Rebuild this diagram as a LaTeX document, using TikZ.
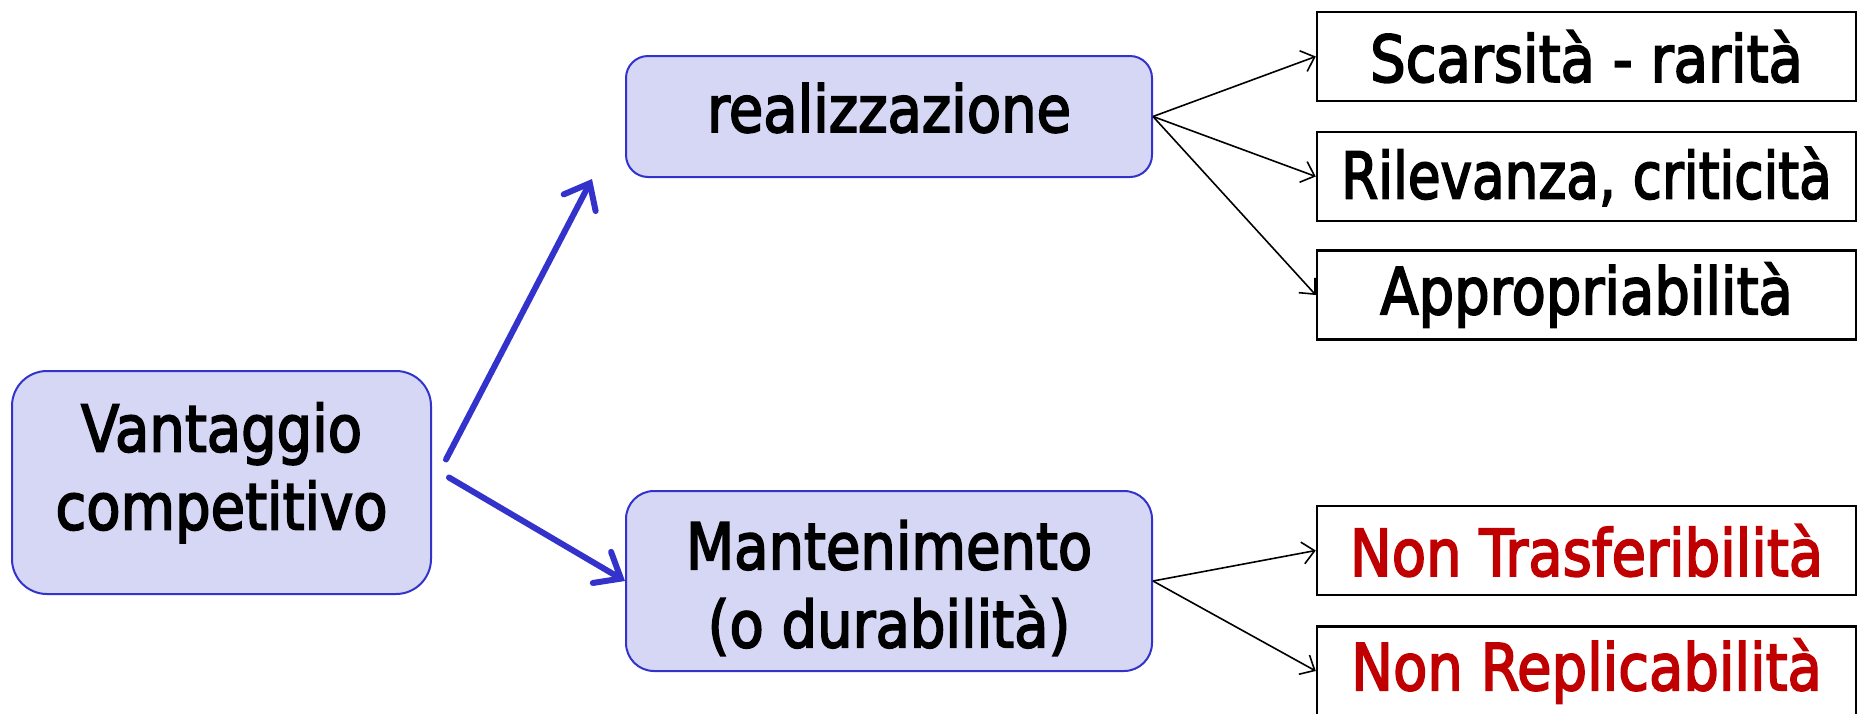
\documentclass[tikz,border=0pt]{standalone}
\usepackage{fontspec}
\setmainfont{DejaVu Sans}[FakeBold=3]
\usetikzlibrary{arrows.meta,calc}
\definecolor{boxblue}{RGB}{51,51,204}
\definecolor{boxfill}{RGB}{214,214,245}
\definecolor{darkred}{RGB}{192,0,0}
% slightly tall lettering
\newcommand{\tl}[1]{\scalebox{1}[1.15]{#1}}

\begin{document}
\begin{tikzpicture}[x=1pt,y=-1pt,
  mainbox/.style={draw=boxblue, line width=2pt, fill=boxfill, align=center,
    inner sep=0pt, font=\fontsize{56}{78}\selectfont},
  leafbox/.style={draw=black, line width=2.5pt, fill=white, minimum width=539pt,
    minimum height=89pt, inner sep=0pt, font=\fontsize{56}{75}\selectfont},
  bigarrow/.style={draw=boxblue, line width=6pt, line cap=round,
    -{Straight Barb[length=22pt,width=36pt,line cap=round]}},
  thinarrow/.style={draw=black, line width=1.6pt,
    -{Straight Barb[length=12pt,width=22pt]}}]

\useasboundingbox (0,0) rectangle (1860,713);

% main concepts
\node[mainbox, rounded corners=35pt, minimum width=419pt, minimum height=223pt,
  text depth=33pt]
  (vant) at (221.5,482.5) {\tl{Vantaggio}\\\tl{competitivo}};
\node[mainbox, rounded corners=22pt, minimum width=526pt, minimum height=121pt,
  text depth=18pt]
  (real) at (889,116.5) {\tl{realizzazione}};
\node[mainbox, rounded corners=28pt, minimum width=526pt, minimum height=180pt,
  text height=141pt]
  (ment) at (889,581) {\tl{Mantenimento}\\\tl{(o durabilità)}};

% conditions
\node[leafbox] (scar) at (1586.5,56.5) {\tl{Scarsità - rarità}};
\node[leafbox] (rile) at (1586.5,176.5) {\scalebox{0.95}[1.15]{Rilevanza, criticità}};
\node[leafbox] (appr) at (1586.5,295) {\tl{Appropriabilità}};
\node[leafbox, text=darkred] (tras) at (1586.5,550.5) {\tl{Non Trasferibilità}};
\node[leafbox, text=darkred] (repl) at (1586.5,671) {\tl{Non Replicabilità}};

% thick blue arrows
\coordinate (up0) at ($(vant.east)+(14,-23)$);
\coordinate (up1) at ($(real.south west)+(-33,1)$);
\coordinate (dn0) at ($(vant.east)+(17,-5)$);
\draw[bigarrow] (up0) -- (up1);
\draw[bigarrow] (dn0) -- (ment.west);

% thin arrows to the conditions
\draw[thinarrow] (real.east) -- (scar.west);
\draw[thinarrow] (real.east) -- (rile.west);
\draw[thinarrow] (real.east) -- (appr.west);
\draw[thinarrow] (ment.east) -- (tras.west);
\draw[thinarrow] (ment.east) -- (repl.west);
\end{tikzpicture}
\end{document}
